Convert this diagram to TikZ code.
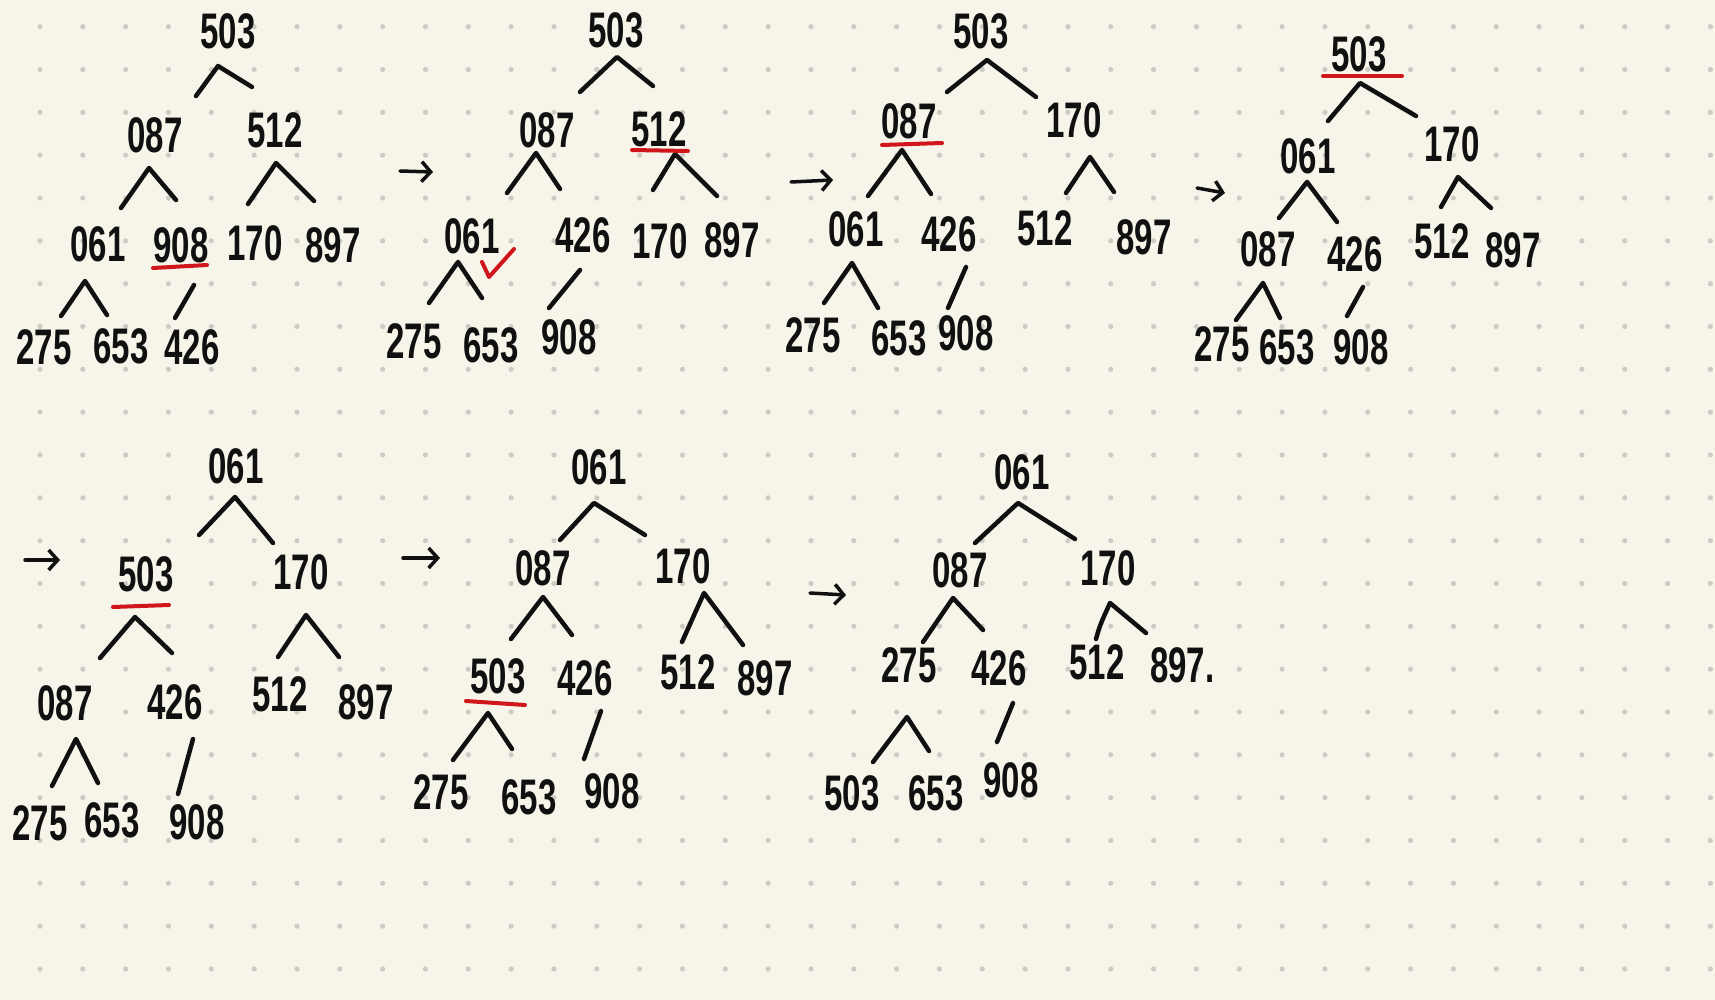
\documentclass[tikz,border=0pt]{standalone}
\usepackage{fontspec}
\newfontfamily\handfont[FakeStretch=0.66]{Liberation Sans}
\usetikzlibrary{arrows.meta}
\definecolor{paper}{HTML}{F7F5EA}
\definecolor{dotc}{HTML}{CDCBC3}
\definecolor{ink}{HTML}{101010}
\definecolor{redink}{HTML}{D0161B}
\newcommand\hcaret[4]{\coordinate (#1l) at (#2); \coordinate (#1a) at (#3); \coordinate (#1r) at (#4); \draw[edge] (#1l) -- (#1a) -- (#1r);}
\newcommand\hsingle[3]{\coordinate (#1a) at (#2); \coordinate (#1b) at (#3); \draw[edge] (#1a) -- (#1b);}
\newcommand\hunder[3]{\coordinate (#1a) at (#2); \coordinate (#1b) at (#3); \draw[redline] (#1a) -- (#1b);}
\newcommand\harrow[3]{\coordinate (#1a) at (#2); \coordinate (#1b) at (#3); \draw[arrowline] (#1a) -- (#1b);}
\begin{document}
\begin{tikzpicture}[x=1pt,y=-1pt,
  num/.style={inner sep=0pt, font=\handfont\bfseries\fontsize{50}{50}\selectfont, text=ink},
  edge/.style={draw=ink, line width=4.5pt, line cap=round, line join=round},
  redline/.style={draw=redink, line width=4pt, line cap=round, line join=round},
  arrowline/.style={draw=ink, line width=3.5pt, line cap=round, -{Straight Barb[length=9pt,width=20pt]}}]
\fill[paper] (0,0) rectangle (1715,1000);
\useasboundingbox (0,0) rectangle (1715,1000);
\foreach \i in {0,...,39}{\foreach \j in {0,...,22}{\fill[dotc] ({40+42.83*\i},{26.7+42.83*\j}) circle (2.6pt);}}
% ---------- tree 1 ----------
\node[num] (pa0) at (228,31) {503};
\node[num] (pa1) at (155,135) {087};
\node[num] (pa2) at (275,130) {512};
\node[num] (pa3) at (98,244) {061};
\node[num] (pa4) at (181,245) {908};
\node[num] (pa5) at (255,243) {170};
\node[num] (pa6) at (333,245) {897};
\node[num] (pa7) at (44,347) {275};
\node[num] (pa8) at (121,346) {653};
\node[num] (pa9) at (192,347) {426};
\hcaret{ca1}{196,96}{218,66}{252,87}
\hcaret{ca2}{121,208}{149,168}{176,200}
\hcaret{ca3}{248,204}{276,163}{314,201}
\hcaret{ca4}{61,316}{85,281}{107,315}
\hsingle{sa1}{194,285}{175,318}
\hunder{ua1}{153,268}{207,265}
% ---------- tree 2 ----------
\harrow{ar1}{400,171}{433,172}
\node[num] (pb0) at (616,30) {503};
\node[num] (pb1) at (547,130) {087};
\node[num] (pb2) at (659,129) {512};
\node[num] (pb3) at (472,236) {061};
\node[num] (pb4) at (583,235) {426};
\node[num] (pb5) at (660,241) {170};
\node[num] (pb6) at (732,240) {897};
\node[num] (pb7) at (414,341) {275};
\node[num] (pb8) at (491,345) {653};
\node[num] (pb9) at (569,337) {908};
\hcaret{cb1}{580,92}{617,57}{653,86}
\hcaret{cb2}{507,193}{536,153}{560,189}
\hcaret{cb3}{653,190}{675,154}{717,196}
\hcaret{cb4}{429,303}{458,262}{482,298}
\hsingle{sb1}{580,270}{549,308}
\hunder{ub1}{632,150}{688,151}
\coordinate (ck1) at (482,262); \coordinate (ck2) at (489,277); \coordinate (ck3) at (514,249);
\draw[redline] (ck1) -- (ck2) -- (ck3);
% ---------- tree 3 ----------
\harrow{ar2}{791,182}{833,180}
\node[num] (pc0) at (981,31) {503};
\node[num] (pc1) at (909,121) {087};
\node[num] (pc2) at (1074,120) {170};
\node[num] (pc3) at (856,229) {061};
\node[num] (pc4) at (949,234) {426};
\node[num] (pc5) at (1045,228) {512};
\node[num] (pc6) at (1144,237) {897};
\node[num] (pc7) at (813,335) {275};
\node[num] (pc8) at (899,338) {653};
\node[num] (pc9) at (966,333) {908};
\hcaret{cc1}{947,92}{987,60}{1036,97}
\hcaret{cc2}{868,196}{902,150}{931,194}
\hcaret{cc3}{1066,193}{1090,157}{1114,192}
\hcaret{cc4}{824,303}{852,263}{878,308}
\hsingle{sc1}{966,267}{948,308}
\hunder{uc1}{882,145}{942,143}
% ---------- tree 4 ----------
\harrow{ar3}{1197,188}{1225,193}
\node[num] (pd0) at (1359,54) {503};
\node[num] (pd1) at (1308,156) {061};
\node[num] (pd2) at (1452,144) {170};
\node[num] (pd3) at (1268,249) {087};
\node[num] (pd4) at (1355,254) {426};
\node[num] (pd5) at (1442,241) {512};
\node[num] (pd6) at (1513,250) {897};
\node[num] (pd7) at (1222,344) {275};
\node[num] (pd8) at (1287,347) {653};
\node[num] (pd9) at (1361,347) {908};
\hcaret{cd1}{1328,121}{1360,83}{1416,116}
\hcaret{cd2}{1279,218}{1307,182}{1337,222}
\hcaret{cd3}{1441,207}{1458,177}{1491,208}
\hcaret{cd4}{1236,320}{1263,283}{1280,318}
\hsingle{sd1}{1363,287}{1347,316}
\hunder{ud1}{1323,76}{1402,76}
% ---------- tree 5 ----------
\harrow{ar4}{25,560}{60,560}
\node[num] (pe0) at (236,466) {061};
\node[num] (pe1) at (146,574) {503};
\node[num] (pe2) at (301,572) {170};
\node[num] (pe3) at (65,703) {087};
\node[num] (pe4) at (175,702) {426};
\node[num] (pe5) at (280,694) {512};
\node[num] (pe6) at (366,702) {897};
\node[num] (pe7) at (40,823) {275};
\node[num] (pe8) at (112,820) {653};
\node[num] (pe9) at (197,822) {908};
\hcaret{ce1}{199,535}{235,497}{273,543}
\hcaret{ce2}{100,658}{135,617}{172,653}
\hcaret{ce3}{278,657}{306,615}{339,657}
\hcaret{ce4}{52,786}{76,739}{98,783}
\hsingle{se1}{193,739}{178,794}
\hunder{ue1}{113,607}{169,605}
% ---------- tree 6 ----------
\harrow{ar5}{403,558}{440,558}
\node[num] (pf0) at (599,467) {061};
\node[num] (pf1) at (543,568) {087};
\node[num] (pf2) at (683,566) {170};
\node[num] (pf3) at (498,676) {503};
\node[num] (pf4) at (585,678) {426};
\node[num] (pf5) at (688,672) {512};
\node[num] (pf6) at (765,678) {897};
\node[num] (pf7) at (441,792) {275};
\node[num] (pf8) at (529,797) {653};
\node[num] (pf9) at (612,791) {908};
\hcaret{cf1}{560,540}{594,503}{645,535}
\hcaret{cf2}{511,639}{543,597}{572,635}
\hcaret{cf3}{682,642}{704,593}{743,645}
\hcaret{cf4}{453,760}{488,713}{512,749}
\hsingle{sf1}{601,711}{584,759}
\hunder{uf1}{466,701}{525,705}
% ---------- tree 7 ----------
\harrow{ar6}{810,593}{846,595}
\node[num] (pg0) at (1022,472) {061};
\node[num] (pg1) at (960,570) {087};
\node[num] (pg2) at (1108,568) {170};
\node[num] (pg3) at (909,665) {275};
\node[num] (pg4) at (999,668) {426};
\node[num] (pg5) at (1097,662) {512};
\node[num, anchor=west] (pg6) at (1150,665) {897.};
\node[num] (pg7) at (852,793) {503};
\node[num] (pg8) at (936,793) {653};
\node[num] (pg9) at (1011,780) {908};
\hcaret{cg1}{975,543}{1018,503}{1075,539}
\hcaret{cg2}{923,642}{953,598}{983,630}
\coordinate (cg3l) at (1096,639); \coordinate (cg3a) at (1110,603); \coordinate (cg3r) at (1146,633);
\draw[edge] (cg3l) .. controls (1100,625) .. (cg3a) -- (cg3r);
\hcaret{cg4}{873,762}{907,717}{929,751}
\hsingle{sg1}{1013,703}{997,742}
\end{tikzpicture}
\end{document}
